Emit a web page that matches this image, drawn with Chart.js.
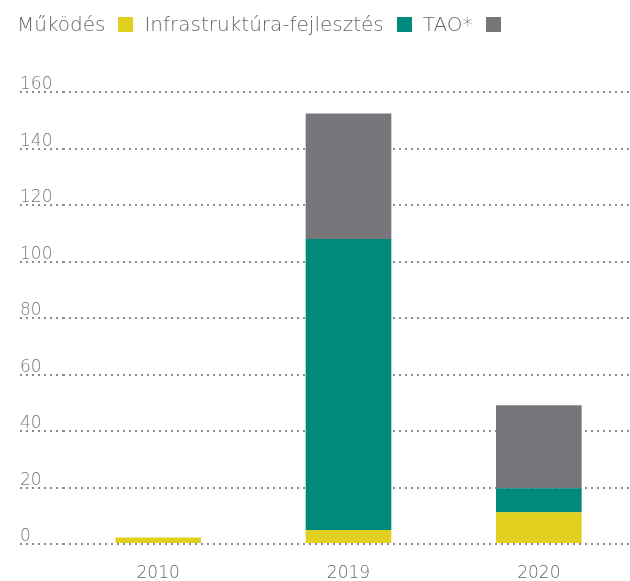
<!DOCTYPE html>
<html>
<head>
<meta charset="utf-8">
<script src="https://cdn.jsdelivr.net/npm/chart.js@4/dist/chart.umd.min.js"></script>
<style>
    html, body { margin: 0; padding: 0; background: #fff; overflow: hidden; }
    #wrap { position: relative; width: 640px; height: 581px; }
    #legend {
        position: absolute; left: 17px; top: 9px; height: 30px;
        display: flex; align-items: center;
        font-family: "DejaVu Sans", sans-serif; font-weight: 200; font-size: 20px; color: #666;
        white-space: nowrap;
    }
    #legend .box { width: 15px; height: 15px; margin: 0 11px 0 13px; }
</style>
</head>
<body>
<div id="wrap">
    <div id="legend"></div>
    <canvas id="chart" width="640" height="581"></canvas>
</div>
<script>
    'use strict';

    // values
    const years = ['2010', '2019', '2020'];
    const mukodes = [2.3, 5, 11.2];
    const infrastruktura = [0, 103, 8.5];
    const tao = [0, 44.4, 29.4];

    const seriesLabels = ['Működés', 'Infrastruktúra-fejlesztés', 'TAO*'];
    const seriesColors = ['#e1d01f', '#008a7b', '#77777b'];

    const dotted = [2, 4],
        dotColor = '#8c8c8c',
        font = '"DejaVu Sans", sans-serif';

    const config = {
        type: 'bar',
        data: {
            labels: years,
            datasets: [mukodes, infrastruktura, tao].map((values, i) => ({
                label: seriesLabels[i],
                data: values,
                backgroundColor: seriesColors[i],
                borderWidth: 0,
                barPercentage: 0.45,
                categoryPercentage: 1
            }))
        },
        options: {
            responsive: false,
            animation: false,
            layout: {
                padding: { top: 92, right: 6, bottom: 0, left: 20 }
            },
            plugins: {
                legend: { display: false },
                tooltip: { enabled: false }
            },
            scales: {
                x: {
                    stacked: true,
                    afterFit: (scale) => { scale.height = 37; },
                    grid: { display: false, drawTicks: false },
                    border: { display: false },
                    ticks: {
                        color: '#666',
                        padding: 19,
                        font: { family: font, size: 17, weight: 200 }
                    }
                },
                y: {
                    stacked: true,
                    min: 0,
                    max: 160,
                    afterFit: (scale) => { scale.width = 43; },
                    border: { display: false, dash: dotted },
                    grid: {
                        color: dotColor,
                        lineWidth: 2,
                        tickLength: 43,
                        tickColor: dotColor,
                        tickWidth: 2,
                        tickBorderDash: dotted
                    },
                    ticks: {
                        stepSize: 20,
                        color: '#777',
                        crossAlign: 'far',
                        labelOffset: -7,
                        font: { family: font, size: 17, weight: 200 }
                    }
                }
            }
        }
    };

    const chart = new Chart(document.getElementById('chart'), config);

    // legend: label text first, then its colour box
    const legend = document.getElementById('legend');
    chart.data.datasets.forEach((ds) => {
        const text = document.createElement('span');
        text.textContent = ds.label;
        const box = document.createElement('span');
        box.className = 'box';
        box.style.background = ds.backgroundColor;
        legend.appendChild(text);
        legend.appendChild(box);
    });
</script>
</body>
</html>
